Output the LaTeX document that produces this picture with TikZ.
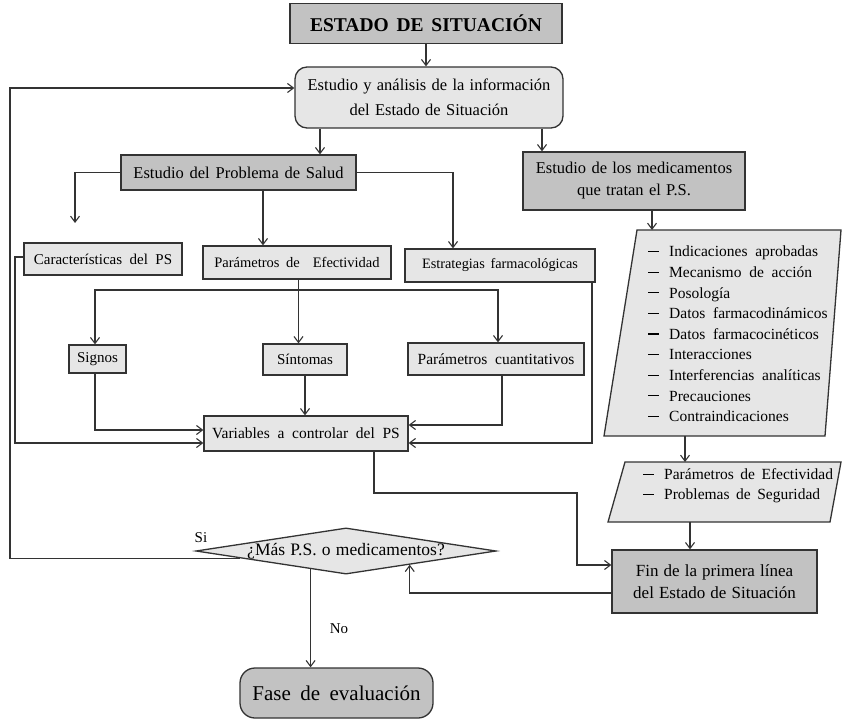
\documentclass[tikz,border=0pt]{standalone}
\usepackage{fontspec}
\setmainfont{Liberation Serif}
\usetikzlibrary{arrows.meta,shapes.geometric,calc}

\definecolor{linec}{HTML}{333333}
\definecolor{darkf}{HTML}{C2C2C2}
\definecolor{lightf}{HTML}{E6E6E6}

% list entry with a heavy dash
\newcommand\dashitem[1]{\rule[0.3em]{11pt}{1.2pt}\hspace{10pt}#1}

\tikzset{
  box/.style={draw=linec, line width=1.3pt, inner sep=0pt, align=center, text=black},
  dark/.style={box, fill=darkf},
  light/.style={box, fill=lightf},
  polyfill/.style={draw=linec, line width=1.3pt, fill=lightf},
  conn/.style={draw=linec, line width=1.1pt, -{Straight Barb[length=6pt,width=9pt]}},
  plain/.style={draw=linec, line width=1.1pt},
  fs/.style 2 args={font={\fontsize{#1}{#2}\selectfont}},
  ws/.style={execute at begin node={\spaceskip=#1em\relax}},
}

\begin{document}
\begin{tikzpicture}[x=1pt,y=-1pt]
\useasboundingbox (0,0) rectangle (842,719);

% ---------- boxes ----------
\node[dark, minimum width=272pt, minimum height=40pt, ws=0.4,
      font={\fontsize{19.5}{22}\selectfont\bfseries}] (title) at (426,23.5) {ESTADO DE SITUACIÓN};
\node[light, rounded corners=12pt, minimum width=268pt, minimum height=61pt, ws=0.32,
      fs={16.5}{25}] (est) at (429,97.5)
      {Estudio y análisis de la información\\del Estado de Situación};
\node[dark, minimum width=235pt, minimum height=35pt, ws=0.35, fs={16.5}{18}] (prob) at (238.5,172.5)
      {Estudio del Problema de Salud};
\node[dark, minimum width=222pt, minimum height=58pt, ws=0.32, fs={16.5}{22}] (med) at (634,181)
      {Estudio de los medicamentos\\que tratan el P.S.};

\node[light, minimum width=158pt, minimum height=32pt, ws=0.5, fs={15}{17}] (car) at (103,259)
      {Características del PS};
\node[light, minimum width=188pt, minimum height=33pt, ws=0.45, fs={14.5}{17}] (pef) at (297,262.5)
      {Parámetros de\ \ Efectividad};
\node[light, minimum width=190pt, minimum height=33pt, ws=0.4, fs={14.3}{17}] (estr) at (500,265.5)
      {Estrategias farmacológicas};

\node[light, minimum width=57pt, minimum height=28pt, fs={15}{17}] (sig) at (97.5,359) {Signos};
\node[light, minimum width=84pt, minimum height=31pt, fs={15}{17}] (sin) at (305,359.5) {Síntomas};
\node[light, minimum width=176pt, minimum height=32pt, ws=0.5, fs={15.5}{17}] (pcu) at (496,359)
      {Parámetros cuantitativos};

\node[light, minimum width=204pt, minimum height=35pt, ws=0.5, fs={15.5}{17}] (var) at (306,433.5)
      {Variables a controlar del PS};

% drug data sheets (slanted)
\coordinate (p1tl) at (637,230);
\coordinate (p1tr) at (841,230);
\coordinate (p1br) at (825,436);
\coordinate (p1bl) at (604,436);
\draw[polyfill] (p1tl) -- (p1tr) -- (p1br) -- (p1bl) -- cycle;
\node[anchor=west, align=left, inner sep=0pt, ws=0.5, fs={15.5}{20.6}] (p1txt) at (648,334)
  {\dashitem{Indicaciones aprobadas}\\
   \dashitem{Mecanismo de acción}\\
   \dashitem{Posología}\\
   \dashitem{Datos farmacodinámicos}\\
   \dashitem{Datos farmacocinéticos}\\
   \dashitem{Interacciones}\\
   \dashitem{Interferencias analíticas}\\
   \dashitem{Precauciones}\\
   \dashitem{Contraindicaciones}};

\coordinate (p2tl) at (625,462);
\coordinate (p2tr) at (841,462);
\coordinate (p2br) at (830,522);
\coordinate (p2bl) at (608,522);
\draw[polyfill] (p2tl) -- (p2tr) -- (p2br) -- (p2bl) -- cycle;
\node[anchor=west, align=left, inner sep=0pt, ws=0.42, fs={15.5}{20}] (p2txt) at (643,486)
  {\dashitem{Parámetros de Efectividad}\\
   \dashitem{Problemas de Seguridad}};

\node[dark, minimum width=205pt, minimum height=63pt, ws=0.3, fs={17}{22}] (fin) at (714.5,581.5)
      {Fin de la primera línea\\del Estado de Situación};

\node[diamond, light, aspect=6.5, minimum width=298pt, minimum height=46pt, ws=0.3,
      fs={17.5}{19}] (dia) at (346,551) {¿Más P.S. o medicamentos?};

\node[dark, rounded corners=15pt, minimum width=193pt, minimum height=50pt, ws=0.45,
      fs={21}{24}] (fase) at (336.5,693) {Fase de evaluación};

\node[fs={15}{17}, inner sep=0pt] (si) at (201,538) {Si};
\node[fs={15}{17}, inner sep=0pt] (no) at (339,629) {No};

% ---------- connectors ----------
\draw[conn] (title.south) -- (title.south |- est.north);
\draw[conn] ([xshift=-109pt]est.south) -- ([xshift=-109pt]est.south |- prob.north);
\draw[conn] ([xshift=113pt]est.south) -- ([xshift=113pt]est.south |- med.north);

% return loop from the decision
\coordinate (loopc) at (10,88);
\coordinate (siP) at ($(dia.west)!0.3!(dia.south)$);
\draw[conn] (siP) -| (loopc) -- (loopc -| est.west);

% problem branches
\coordinate (carEnd) at (75,223);
\draw[conn] (prob.west) -| (carEnd);
\draw[conn] (prob.east) -| ([xshift=-47pt]estr.north);
\draw[conn] ([xshift=24.5pt]prob.south) -- ([xshift=24.5pt]prob.south |- pef.north);

% distribution to signs, symptoms and parameters
\coordinate (dist) at (298.5,290);
\draw[plain] (dist |- pef.south) -- (dist);
\draw[conn] (dist) -| ([xshift=-2.5pt]sig.north);
\draw[conn] (dist) -- (dist |- sin.north);
\draw[conn] (dist) -| ([xshift=2pt]pcu.north);

% into the variables box
\draw[conn] (sin.south) -- (sin.south |- var.north);
\draw[conn] ([xshift=-2.5pt]sig.south) |- ([yshift=3.5pt]var.west);
\draw[conn] ([xshift=6pt]pcu.south) |- ([yshift=8.5pt]var.east);
\draw[conn] ([xshift=92pt]estr.south) |- ([yshift=-9.5pt]var.east);
\coordinate (carL) at (15,0);
\draw[conn] ([yshift=2pt]car.west) -- ([yshift=2pt]car.west -| carL) |- ([yshift=-9.5pt]var.west);

% variables to end of first line
\coordinate (vbend) at (577,493);
\draw[conn] ([xshift=68pt]var.south) |- (vbend) |- ([yshift=16.5pt]fin.west);

% drug study chain
\draw[conn] ([xshift=18pt]med.south) -- ([xshift=18pt]med.south |- p1tl);
\coordinate (p1b) at (685,436);
\draw[conn] (p1b) -- (p1b |- p2tl);
\coordinate (p2b) at (690,522);
\draw[conn] (p2b) -- (p2b |- fin.north);

% back to the decision and exit
\coordinate (diaR) at ($(dia.east)!0.577!(dia.south)$);
\draw[conn] ([yshift=-11.5pt]fin.west) -| (diaR);
\coordinate (diaB) at ($(dia.south)!0.235!(dia.west)$);
\draw[conn] (diaB) -- (diaB |- fase.north);
\end{tikzpicture}
\end{document}
